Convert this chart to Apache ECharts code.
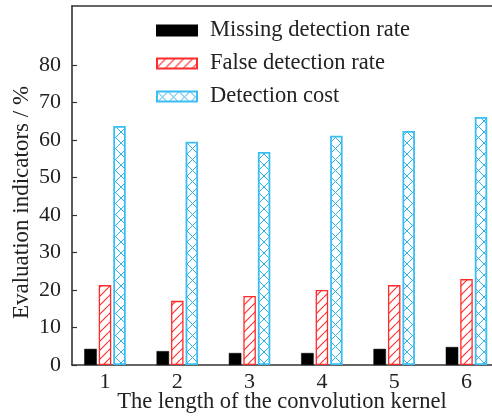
<!DOCTYPE html>
<html>
<head>
<meta charset="utf-8">
<script src="https://cdn.jsdelivr.net/npm/echarts@6/dist/echarts.min.js"></script>
<style>
html,body{margin:0;padding:0;background:#fff;}
#chart{width:492px;height:416px;}
</style>
</head>
<body>
<div id="chart"></div>
<script>
// ---- data ----
const kernelLengths = [1, 2, 3, 4, 5, 6];
const missingRate = [4.3, 3.7, 3.2, 3.2, 4.3, 4.8];
const falseRate = [21.3, 17.1, 18.4, 20.0, 21.3, 22.9];
const detectionCost = [63.7, 59.5, 56.8, 61.1, 62.4, 66.1];
const yTickValues = [0, 10, 20, 30, 40, 50, 60, 70, 80];
const seriesNames = ['Missing detection rate', 'False detection rate', 'Detection cost'];

function makeTile(size, bg, color, lw, dirs) {
  const c = document.createElement('canvas');
  c.width = size; c.height = size;
  const ctx = c.getContext('2d');
  ctx.fillStyle = bg; ctx.fillRect(0, 0, size, size);
  ctx.strokeStyle = color; ctx.lineWidth = lw;
  ctx.beginPath();
  for (let k = -1; k <= 1; k++) {
    if (dirs.indexOf('/') >= 0) { ctx.moveTo(k * size, size); ctx.lineTo(k * size + size, 0); }
    if (dirs.indexOf('\\') >= 0) { ctx.moveTo(k * size, 0); ctx.lineTo(k * size + size, size); }
  }
  ctx.stroke();
  return c;
}
const redPattern = { image: makeTile(9, '#ffffff', '#ff3030', 1.2, '/'), repeat: 'repeat' };
const bluePattern = { image: makeTile(11, '#ffffff', '#2cb2ea', 1.0, '/\\'), repeat: 'repeat' };

const toPairs = vals => kernelLengths.map((x, i) => [x, vals[i]]);

const font = 'Liberation Serif';
const txt = '#222';
const xMin = 1 - 33 / 72.3;
const xMax = xMin + 420 / 72.3;

const chart = echarts.init(document.getElementById('chart'), null, { renderer: 'canvas' });
chart.setOption({
  animation: false,
  backgroundColor: '#fff',
  textStyle: { fontFamily: font },
  grid: { left: 72, right: 0, top: 6, bottom: 51, containLabel: false, outerBoundsMode: 'none' },
  legend: {
    orient: 'vertical',
    left: 156,
    top: 19,
    padding: 0,
    itemWidth: 40,
    itemHeight: 10,
    itemGap: 10,
    icon: 'rect',
    textStyle: { fontFamily: font, fontSize: 22.5, color: txt, lineHeight: 22, padding: [0, 0, 0, 8] },
    data: seriesNames
  },
  xAxis: [{
    type: 'value',
    min: xMin,
    max: xMax,
    axisLine: { show: true, lineStyle: { color: '#333', width: 1.6 } },
    axisTick: { show: false },
    splitLine: { show: false },
    axisLabel: { customValues: kernelLengths, fontFamily: font, fontSize: 22, color: txt, margin: 6 },
    name: 'The length of the convolution kernel',
    nameLocation: 'middle',
    nameMoveOverlap: false,
    nameGap: 26,
    nameTextStyle: { fontFamily: font, fontSize: 22.5, color: txt }
  }, {
    type: 'value',
    position: 'top',
    min: xMin,
    max: xMax,
    axisLine: { show: true, onZero: false, lineStyle: { color: '#333', width: 1.6 } },
    axisTick: { show: false },
    axisLabel: { show: false },
    splitLine: { show: false }
  }],
  yAxis: {
    type: 'value',
    min: 0,
    max: 95.7,
    interval: 10,
    axisLine: { show: true, lineStyle: { color: '#333', width: 1.6 } },
    axisTick: { show: true, inside: true, length: 5, customValues: yTickValues, lineStyle: { color: '#333', width: 1.2 } },
    splitLine: { show: false },
    axisLabel: { customValues: yTickValues, fontFamily: font, fontSize: 22, color: txt, margin: 11 },
    name: 'Evaluation indicators / %',
    nameLocation: 'middle',
    nameMoveOverlap: false,
    nameGap: 39,
    nameTextStyle: { fontFamily: font, fontSize: 23, color: txt, padding: [0, 34, 0, 0] }
  },
  series: [{
    name: seriesNames[0],
    type: 'bar',
    barWidth: 12.5,
    barGap: '16%',
    data: toPairs(missingRate),
    itemStyle: { color: '#000', borderColor: '#000', borderWidth: 0.5 }
  }, {
    name: seriesNames[1],
    type: 'bar',
    barWidth: 12.5,
    barGap: '16%',
    data: toPairs(falseRate),
    itemStyle: { color: redPattern, borderColor: '#ff2a2a', borderWidth: 1.3 }
  }, {
    name: seriesNames[2],
    type: 'bar',
    barWidth: 12.5,
    barGap: '16%',
    data: toPairs(detectionCost),
    itemStyle: { color: bluePattern, borderColor: '#3cbdf2', borderWidth: 1.8 }
  }]
});
</script>
</body>
</html>
